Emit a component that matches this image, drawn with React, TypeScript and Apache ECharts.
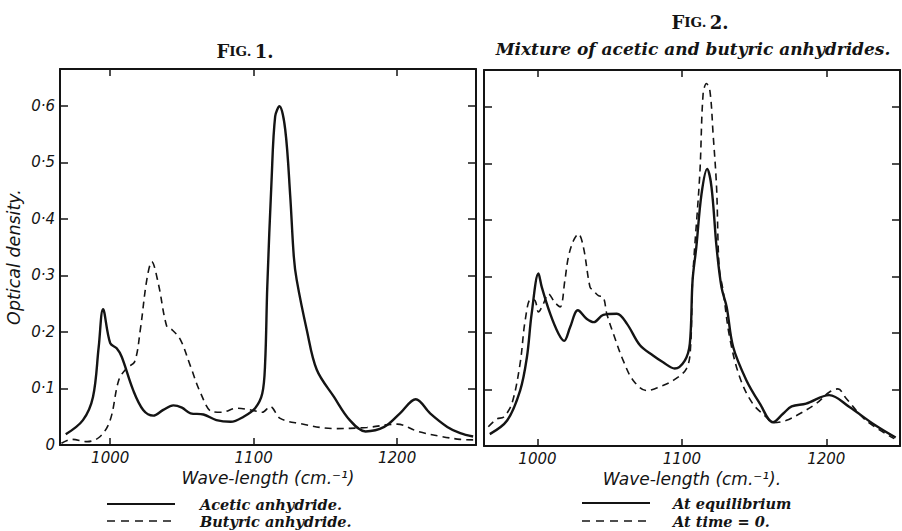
import React, { useEffect, useRef } from "react";
import * as echarts from "echarts";

const aceticX = [969, 981, 988, 992, 995, 1000, 1004.5, 1008, 1016, 1023, 1030, 1037, 1044, 1050, 1056, 1065, 1074, 1084, 1093, 1101, 1106, 1108, 1109.5, 1112.5, 1115, 1118, 1122, 1125.5, 1128, 1130, 1137, 1144, 1156, 1167, 1178, 1191, 1202, 1213, 1223, 1235, 1244, 1253];
const aceticY = [0.019, 0.044, 0.085, 0.174, 0.240, 0.18, 0.171, 0.156, 0.097, 0.062, 0.052, 0.062, 0.070, 0.066, 0.056, 0.054, 0.044, 0.041, 0.050, 0.065, 0.091, 0.145, 0.28, 0.469, 0.581, 0.599, 0.558, 0.44, 0.333, 0.292, 0.204, 0.133, 0.085, 0.044, 0.024, 0.032, 0.056, 0.081, 0.056, 0.032, 0.021, 0.015];

const butyricX = [966, 973, 984, 993, 1000, 1006, 1011.5, 1017, 1021, 1025.5, 1029, 1033.5, 1039.5, 1043, 1049, 1056, 1063, 1071, 1078, 1088, 1098, 1106, 1111.5, 1118.5, 1132, 1156, 1179, 1200, 1214.5, 1231, 1244, 1253];
const butyricY = [0.003, 0.010, 0.006, 0.015, 0.044, 0.115, 0.136, 0.147, 0.204, 0.292, 0.324, 0.286, 0.209, 0.204, 0.186, 0.139, 0.092, 0.059, 0.058, 0.065, 0.062, 0.058, 0.068, 0.047, 0.038, 0.029, 0.031, 0.037, 0.024, 0.015, 0.010, 0.009];

const equilX = [967, 979, 988, 992.7, 996, 1000.7, 1003, 1008.8, 1014.5, 1018.5, 1022.6, 1028, 1034, 1039, 1045.6, 1055, 1062, 1071, 1080, 1087, 1095, 1102, 1105.5, 1107.4, 1110, 1113.6, 1117.5, 1120.5, 1124, 1127.4, 1131, 1135.5, 1144.7, 1154, 1163, 1170, 1176, 1186, 1202, 1216, 1232, 1248];
const equilY = [0.021, 0.045, 0.098, 0.157, 0.234, 0.305, 0.281, 0.234, 0.199, 0.186, 0.210, 0.24, 0.225, 0.219, 0.232, 0.234, 0.216, 0.178, 0.160, 0.148, 0.137, 0.151, 0.181, 0.293, 0.352, 0.446, 0.49, 0.458, 0.352, 0.281, 0.246, 0.175, 0.116, 0.075, 0.042, 0.057, 0.070, 0.075, 0.090, 0.069, 0.040, 0.015];

const time0X = [966, 972, 976.5, 982.3, 988, 991.5, 995.4, 998.4, 1000.7, 1004, 1007.6, 1012, 1015.7, 1019, 1021.4, 1024.9, 1028.3, 1031.8, 1036.4, 1038.7, 1042.2, 1045.6, 1048, 1052.5, 1059.4, 1066.3, 1075.6, 1084.8, 1094, 1103.2, 1106, 1107.4, 1112.4, 1114.7, 1117, 1119.4, 1121.6, 1124, 1125.8, 1128.5, 1133, 1140, 1149, 1158.5, 1163, 1172, 1181.5, 1193, 1202, 1208, 1213.8, 1227.6, 1247];
const time0Y = [0.034, 0.048, 0.051, 0.075, 0.146, 0.222, 0.260, 0.257, 0.237, 0.251, 0.269, 0.254, 0.246, 0.293, 0.334, 0.363, 0.375, 0.352, 0.281, 0.275, 0.266, 0.263, 0.234, 0.199, 0.151, 0.116, 0.098, 0.105, 0.116, 0.137, 0.175, 0.293, 0.481, 0.623, 0.641, 0.628, 0.552, 0.458, 0.316, 0.275, 0.193, 0.122, 0.075, 0.051, 0.041, 0.045, 0.057, 0.075, 0.095, 0.101, 0.084, 0.045, 0.013];

const xTicks = [1000, 1100, 1200];
const yTicks = [0, 0.1, 0.2, 0.3, 0.4, 0.5, 0.6];
const legendLeft = ["Acetic anhydride.", "Butyric anhydride."];
const legendRight = ["At equilibrium", "At time = 0."];

const zip = (xs: number[], ys: number[]) => xs.map((x, i) => [x, ys[i]]);

const INK = "#141414";
const tickFont = { fontFamily: "DejaVu Sans", fontStyle: "italic" as const, fontSize: 15, color: INK };

function App() {
  const ref = useRef<HTMLDivElement>(null);
  useEffect(() => {
    if (!ref.current) return;
    const chart = echarts.init(ref.current, undefined, { renderer: "svg" });
    const axisLine = { show: true, onZero: false, lineStyle: { color: INK, width: 2 } };
    const tickIn = (vals: number[], len: number) => ({ show: true, inside: true, length: len, customValues: vals, lineStyle: { color: INK, width: 1.5 } });

    const xAxisFor = (grid: number, min: number, max: number, pos: "bottom" | "top", labels: boolean, name: string) => ({
      type: "value", gridIndex: grid, min, max, position: pos,
      axisLine, axisTick: tickIn(xTicks, 7), splitLine: { show: false },
      axisLabel: labels
        ? { show: true, customValues: xTicks, margin: 5, ...tickFont, formatter: (v: number) => String(v) }
        : { show: false },
      name: labels ? name : "", nameLocation: "middle", nameGap: 23,
      nameTextStyle: { fontFamily: "DejaVu Sans", fontStyle: "italic", fontSize: 17, color: INK },
    });
    const yAxisFor = (grid: number, pos: "left" | "right", labels: boolean, name: string) => ({
      type: "value", gridIndex: grid, min: 0, max: 0.665, position: pos,
      axisLine, axisTick: tickIn(yTicks, 8), splitLine: { show: false },
      axisLabel: labels ? {
        show: true, customValues: yTicks, margin: 5, ...tickFont,
        formatter: (v: number) => (v === 0 ? "0" : "0·" + Math.round(v * 10)),
      } : { show: false },
      name: labels ? name : "", nameLocation: "middle", nameGap: 37,
      nameTextStyle: { fontFamily: "DejaVu Sans", fontStyle: "italic", fontSize: 17.5, color: INK },
    });

    const lineSeries = (name: string, xs: number[], ys: number[], axis: number, dashed: boolean) => ({
      type: "line", name, xAxisIndex: axis, yAxisIndex: axis, data: zip(xs, ys),
      symbol: "none", showSymbol: false, smooth: 0.35,
      lineStyle: dashed ? { color: INK, width: 1.6, type: [7, 5] } : { color: INK, width: 2.4 },
      itemStyle: { color: INK },
    });

    const legendFont = { fontFamily: "DejaVu Serif", fontStyle: "italic", fontWeight: "bold", fontSize: 14.5, fill: INK };
    const legendItem = (x0: number, y: number, text: string, dashed: boolean, textX: number) => [
      {
        type: "line", shape: { x1: x0, y1: y, x2: x0 + 68, y2: y },
        style: dashed ? { stroke: INK, lineWidth: 1.6, lineDash: [8, 6] } : { stroke: INK, lineWidth: 2 },
      },
      { type: "text", x: textX, y, style: { text, verticalAlign: "middle", ...legendFont } },
    ];

    const figTitle = (x: number, y: number, num: string) => ({
      type: "text", x, y,
      style: {
        text: "{a|F}{b|IG.} {a|" + num + "}", align: "center", verticalAlign: "middle",
        rich: {
          a: { fontFamily: "DejaVu Serif", fontWeight: "bold", fontSize: 18, fill: INK },
          b: { fontFamily: "DejaVu Serif", fontWeight: "bold", fontSize: 13.5, fill: INK },
        },
      },
    });

    chart.setOption({
      animation: false,
      backgroundColor: "#fff",
      grid: [
        { left: 60, top: 69, width: 416, height: 376 },
        { left: 484, top: 70, width: 416, height: 376 },
      ],
      xAxis: [
        xAxisFor(0, 965, 1255, "bottom", true, "Wave-length (cm.⁻¹)"),
        xAxisFor(1, 963, 1251, "bottom", true, "Wave-length (cm.⁻¹)."),
        xAxisFor(0, 965, 1255, "top", false, ""),
        xAxisFor(1, 963, 1251, "top", false, ""),
      ],
      yAxis: [
        yAxisFor(0, "left", true, "Optical density."),
        yAxisFor(1, "left", false, ""),
        yAxisFor(0, "right", false, ""),
        yAxisFor(1, "right", false, ""),
      ],
      graphic: [
        figTitle(245, 51, "1."),
        figTitle(700, 22, "2."),
        {
          type: "text", x: 693, y: 49,
          style: {
            text: "Mixture of acetic and butyric anhydrides.", align: "center", verticalAlign: "middle",
            fontFamily: "DejaVu Serif", fontStyle: "italic", fontWeight: "bold", fontSize: 17, fill: INK,
          },
        },
        ...legendItem(107, 504, legendLeft[0], false, 200),
        ...legendItem(107, 521, legendLeft[1], true, 200),
        ...legendItem(582, 503, legendRight[0], false, 673),
        ...legendItem(582, 521, legendRight[1], true, 673),
      ],
      series: [
        lineSeries(legendLeft[0], aceticX, aceticY, 0, false),
        lineSeries(legendLeft[1], butyricX, butyricY, 0, true),
        lineSeries(legendRight[0], equilX, equilY, 1, false),
        lineSeries(legendRight[1], time0X, time0Y, 1, true),
      ],
    });
    return () => chart.dispose();
  }, []);
  return <div ref={ref} style={{ position: "fixed", left: 0, top: 0, width: 902, height: 531 }} />;
}

export default App;
